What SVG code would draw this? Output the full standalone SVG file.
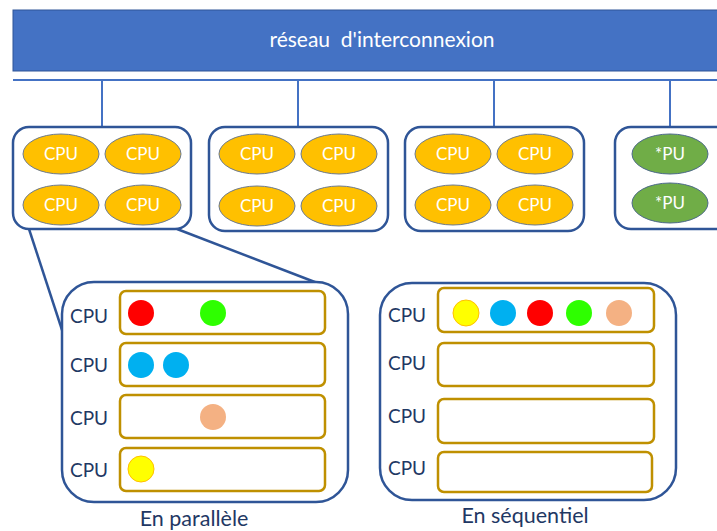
<svg xmlns="http://www.w3.org/2000/svg" width="717" height="531" viewBox="0 0 717 531">
  <style>
    .group { fill: #ffffff; stroke: #2f5597; stroke-width: 2.5; }
    .link { stroke: #4472c4; stroke-width: 2; fill: none; }
    .zoom { stroke: #2f5597; stroke-width: 2.5; fill: none; }
    .cpu { fill: #ffc000; stroke: #6b7a90; stroke-width: 1; }
    .pu { fill: #70ad47; stroke: #4d6a8a; stroke-width: 1; }
    .unit { font-family: Lato, "Liberation Sans", sans-serif; font-size: 17px; fill: #ffffff; text-anchor: middle; }
    .lane { fill: #ffffff; stroke: #bf9000; stroke-width: 2.5; }
    .lbl { font-family: Lato, "Liberation Sans", sans-serif; font-size: 19px; fill: #1f3864; }
    .cap { font-family: Lato, "Liberation Sans", sans-serif; font-size: 21.5px; fill: #1f3864; text-anchor: middle; }
    .t-red { fill: #ff0000; }
    .t-green { fill: #2eff00; }
    .t-blue { fill: #00b0f0; }
    .t-peach { fill: #f4b183; }
    .t-yellow { fill: #ffff00; stroke: #ffc000; stroke-width: 1; }
  </style>
  <rect width="717" height="531" fill="#ffffff"/>

  <!-- interconnect bus -->
  <g id="network">
    <rect x="13" y="10" width="710" height="61" fill="#4472c4" stroke="#2f5597" stroke-width="1"/>
    <text x="382" y="47" font-family="Lato, 'Liberation Sans', sans-serif" font-size="21" fill="#ffffff" text-anchor="middle" xml:space="preserve">réseau  d'interconnexion</text>
  </g>

  <!-- connectors -->
  <g id="connectors">
    <line class="link" x1="13" y1="80" x2="717" y2="80"/>
    <line class="link" x1="102" y1="80" x2="102" y2="127"/>
    <line class="link" x1="298" y1="80" x2="298" y2="127"/>
    <line class="link" x1="494" y1="80" x2="494" y2="127"/>
    <line class="link" x1="670" y1="80" x2="670" y2="127"/>
    <line class="zoom" x1="29" y1="229" x2="63" y2="333"/>
    <line class="zoom" x1="177" y1="229" x2="320" y2="284"/>
  </g>

  <!-- node 1 -->
  <g id="node1">
    <rect class="group" x="13" y="127" width="178" height="102" rx="16"/>
    <ellipse class="cpu" cx="61" cy="154" rx="38" ry="20"/><text class="unit" x="61" y="160">CPU</text>
    <ellipse class="cpu" cx="143" cy="154" rx="38" ry="20"/><text class="unit" x="143" y="160">CPU</text>
    <ellipse class="cpu" cx="61" cy="205" rx="38" ry="20"/><text class="unit" x="61" y="211">CPU</text>
    <ellipse class="cpu" cx="143" cy="205" rx="38" ry="20"/><text class="unit" x="143" y="211">CPU</text>
  </g>

  <!-- node 2 -->
  <g id="node2">
    <rect class="group" x="209" y="127" width="179" height="104" rx="16"/>
    <ellipse class="cpu" cx="257" cy="154" rx="38" ry="20"/><text class="unit" x="257" y="160">CPU</text>
    <ellipse class="cpu" cx="339" cy="154" rx="38" ry="20"/><text class="unit" x="339" y="160">CPU</text>
    <ellipse class="cpu" cx="257" cy="206" rx="38" ry="20"/><text class="unit" x="257" y="212">CPU</text>
    <ellipse class="cpu" cx="339" cy="206" rx="38" ry="20"/><text class="unit" x="339" y="212">CPU</text>
  </g>

  <!-- node 3 -->
  <g id="node3">
    <rect class="group" x="405" y="127" width="179" height="104" rx="16"/>
    <ellipse class="cpu" cx="453" cy="154" rx="38" ry="20"/><text class="unit" x="453" y="160">CPU</text>
    <ellipse class="cpu" cx="535" cy="154" rx="38" ry="20"/><text class="unit" x="535" y="160">CPU</text>
    <ellipse class="cpu" cx="453" cy="205" rx="38" ry="20"/><text class="unit" x="453" y="211">CPU</text>
    <ellipse class="cpu" cx="535" cy="205" rx="38" ry="20"/><text class="unit" x="535" y="211">CPU</text>
  </g>

  <!-- node 4: accelerators -->
  <g id="node4">
    <rect class="group" x="615" y="127" width="120" height="102" rx="16"/>
    <ellipse class="pu" cx="670" cy="154" rx="38" ry="20"/><text class="unit" x="670" y="160">*PU</text>
    <ellipse class="pu" cx="670" cy="203" rx="38" ry="20"/><text class="unit" x="670" y="209">*PU</text>
  </g>

  <!-- parallel schedule -->
  <g id="parallel">
    <rect class="group" x="62" y="282" width="286" height="220" rx="32"/>
    <rect class="lane" x="120" y="291" width="205" height="43" rx="6"/>
    <rect class="lane" x="120" y="343" width="205" height="43" rx="6"/>
    <rect class="lane" x="120" y="395" width="205" height="43" rx="6"/>
    <rect class="lane" x="120" y="448" width="205" height="43" rx="6"/>
    <text class="lbl" x="70" y="323">CPU</text>
    <text class="lbl" x="70" y="372">CPU</text>
    <text class="lbl" x="70" y="425">CPU</text>
    <text class="lbl" x="70" y="477">CPU</text>
    <circle class="t-red" cx="141" cy="313" r="13"/>
    <circle class="t-green" cx="213" cy="313" r="13"/>
    <circle class="t-blue" cx="141" cy="365" r="13"/>
    <circle class="t-blue" cx="176" cy="365" r="13"/>
    <circle class="t-peach" cx="213" cy="417" r="13"/>
    <circle class="t-yellow" cx="141" cy="469" r="13"/>
    <text class="cap" x="194" y="526">En parallèle</text>
  </g>

  <!-- sequential schedule -->
  <g id="sequential">
    <rect class="group" x="380" y="283" width="296" height="217" rx="32"/>
    <rect class="lane" x="438" y="288" width="216" height="44" rx="6"/>
    <rect class="lane" x="438" y="343" width="216" height="43" rx="6"/>
    <rect class="lane" x="438" y="399" width="216" height="44" rx="6"/>
    <rect class="lane" x="438" y="452" width="214" height="40" rx="6"/>
    <text class="lbl" x="388" y="322">CPU</text>
    <text class="lbl" x="388" y="370">CPU</text>
    <text class="lbl" x="388" y="423">CPU</text>
    <text class="lbl" x="388" y="475">CPU</text>
    <circle class="t-yellow" cx="466" cy="313" r="13"/>
    <circle class="t-blue" cx="503" cy="313" r="13"/>
    <circle class="t-red" cx="540" cy="313" r="13"/>
    <circle class="t-green" cx="579" cy="313" r="13"/>
    <circle class="t-peach" cx="619" cy="313" r="13"/>
    <text class="cap" x="525" y="523">En séquentiel</text>
  </g>
</svg>
